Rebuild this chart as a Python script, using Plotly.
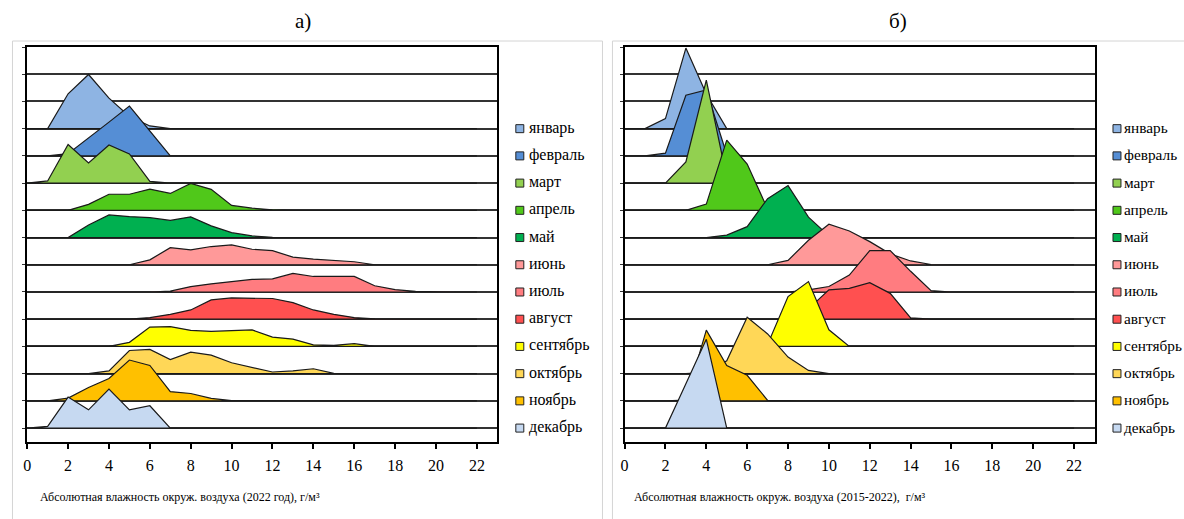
import plotly.graph_objects as go

# Month names and fill colours of the ridges (top row = January)
months = ["январь", "февраль", "март", "апрель", "май", "июнь",
          "июль", "август", "сентябрь", "октябрь", "ноябрь", "декабрь"]
colors = ["#8EB4E3", "#558ED5", "#92D050", "#50C81A", "#00B050", "#FF9999",
          "#FF7C80", "#FF5050", "#FFFF00", "#FFD757", "#FFC000", "#C6D9F1"]

# Absolute humidity bins, g/m³
bins = list(range(23))

# Relative frequency per bin (one grid row = 1.0), 2022
jan_2022 = [0, 0, 1.28, 1.99, 1.12, 0.45, 0.10, 0, 0, 0, 0, 0, 0, 0, 0, 0, 0, 0, 0, 0, 0, 0, 0]
feb_2022 = [0, 0, 0.08, 0.65, 1.24, 1.83, 0.90, 0, 0, 0, 0, 0, 0, 0, 0, 0, 0, 0, 0, 0, 0, 0, 0]
mar_2022 = [0, 0.08, 1.42, 0.74, 1.40, 1.07, 0.06, 0, 0, 0, 0, 0, 0, 0, 0, 0, 0, 0, 0, 0, 0, 0, 0]
apr_2022 = [0, 0, 0, 0.22, 0.59, 0.59, 0.78, 0.62, 0.99, 0.77, 0.18, 0.08, 0.02, 0, 0, 0, 0, 0, 0, 0, 0, 0, 0]
may_2022 = [0, 0, 0, 0.46, 0.83, 0.77, 0.73, 0.63, 0.76, 0.43, 0.18, 0.06, 0.01, 0, 0, 0, 0, 0, 0, 0, 0, 0, 0]
jun_2022 = [0, 0, 0, 0, 0, 0, 0.18, 0.63, 0.55, 0.67, 0.73, 0.57, 0.52, 0.28, 0.21, 0.15, 0.11, 0, 0, 0, 0, 0, 0]
jul_2022 = [0, 0, 0, 0, 0, 0, 0, 0.03, 0.20, 0.30, 0.38, 0.46, 0.48, 0.68, 0.57, 0.57, 0.57, 0.23, 0.09, 0.02, 0, 0, 0]
aug_2022 = [0, 0, 0, 0, 0, 0, 0.06, 0.18, 0.34, 0.71, 0.78, 0.76, 0.76, 0.61, 0.34, 0.18, 0.06, 0.01, 0, 0, 0, 0, 0]
sep_2022 = [0, 0, 0, 0, 0, 0.15, 0.71, 0.73, 0.59, 0.55, 0.59, 0.61, 0.34, 0.27, 0.06, 0.04, 0.10, 0, 0, 0, 0, 0, 0]
oct_2022 = [0, 0, 0, 0, 0.10, 0.85, 0.89, 0.52, 0.79, 0.68, 0.40, 0.24, 0.06, 0.10, 0.18, 0.01, 0, 0, 0, 0, 0, 0, 0]
nov_2022 = [0, 0, 0.10, 0.49, 0.82, 1.50, 1.30, 0.34, 0.27, 0.09, 0.01, 0, 0, 0, 0, 0, 0, 0, 0, 0, 0, 0, 0]
dec_2022 = [0, 0.06, 1.14, 0.67, 1.43, 0.67, 0.82, 0, 0, 0, 0, 0, 0, 0, 0, 0, 0, 0, 0, 0, 0, 0, 0]

# Relative frequency per bin (one grid row = 1.0), 2015-2022
jan_all = [0, 0, 0.37, 2.96, 1.27, 0, 0, 0, 0, 0, 0, 0, 0, 0, 0, 0, 0, 0, 0, 0, 0, 0, 0]
feb_all = [0, 0, 0.10, 2.23, 2.42, 0.05, 0, 0, 0, 0, 0, 0, 0, 0, 0, 0, 0, 0, 0, 0, 0, 0, 0]
mar_all = [0, 0, 0, 0.78, 3.78, 0.20, 0, 0, 0, 0, 0, 0, 0, 0, 0, 0, 0, 0, 0, 0, 0, 0, 0]
apr_all = [0, 0, 0, 0, 0.23, 2.58, 1.70, 0.05, 0, 0, 0, 0, 0, 0, 0, 0, 0, 0, 0, 0, 0, 0, 0]
may_all = [0, 0, 0, 0, 0, 0.09, 0.40, 1.43, 1.91, 0.75, 0.06, 0, 0, 0, 0, 0, 0, 0, 0, 0, 0, 0, 0]
jun_all = [0, 0, 0, 0, 0, 0, 0, 0, 0.16, 0.90, 1.49, 1.24, 0.85, 0.40, 0.14, 0.01, 0, 0, 0, 0, 0, 0, 0]
jul_all = [0, 0, 0, 0, 0, 0, 0, 0, 0, 0.08, 0.20, 0.62, 1.52, 1.52, 0.76, 0.05, 0, 0, 0, 0, 0, 0, 0]
aug_all = [0, 0, 0, 0, 0, 0, 0, 0, 0, 0.38, 1.08, 1.13, 1.34, 0.95, 0.05, 0, 0, 0, 0, 0, 0, 0, 0]
sep_all = [0, 0, 0, 0, 0, 0, 0, 0.07, 1.83, 2.38, 0.61, 0, 0, 0, 0, 0, 0, 0, 0, 0, 0, 0, 0]
oct_all = [0, 0, 0, 0, 0.05, 0.47, 2.07, 1.46, 0.61, 0.12, 0, 0, 0, 0, 0, 0, 0, 0, 0, 0, 0, 0, 0]
nov_all = [0, 0, 0, 0.03, 2.60, 1.30, 0.94, 0.02, 0, 0, 0, 0, 0, 0, 0, 0, 0, 0, 0, 0, 0, 0, 0]
dec_all = [0, 0, 0, 1.63, 3.26, 0, 0, 0, 0, 0, 0, 0, 0, 0, 0, 0, 0, 0, 0, 0, 0, 0, 0]

xticks = list(range(0, 23, 2))

SERIF = "Liberation Serif"
W, H = 1184, 519
n_rows = len(months)
baselines = [n_rows - 0.5 - i for i in range(n_rows)]  # January on top

X_RANGE = [0, 23]
Y_RANGE = [0, n_rows + 2.5]
ydom = [(H - 441.7) / H, (H - 47.0) / H]
xdoms = [[23.3 / W, 495.0 / W], [622.7 / W, 1094.2 / W]]

# (x axis, y axis, domain, legend text offset, legend font size, series)
panels = [
    ("x", "y", xdoms[0], 24.45, 16,
     [jan_2022, feb_2022, mar_2022, apr_2022, may_2022, jun_2022,
      jul_2022, aug_2022, sep_2022, oct_2022, nov_2022, dec_2022]),
    ("x2", "y2", xdoms[1], 24.35, 15.3,
     [jan_all, feb_all, mar_all, apr_all, may_all, jun_all,
      jul_all, aug_all, sep_all, oct_all, nov_all, dec_all]),
]


def to_paper(value, rng, dom):
    """Map an axis value onto paper coordinates (works outside the range too)."""
    return dom[0] + (value - rng[0]) / (rng[1] - rng[0]) * (dom[1] - dom[0])


fig = go.Figure()
legend_text = []
legend_boxes = []
SW = 8  # legend swatch size, px

for xa, ya, xdom, text_x, text_size, series in panels:
    # Ridges: drawn from January (back) to December (front)
    for name, color, base, vals in zip(months, colors, baselines, series):
        xs = bins + [bins[-1], bins[0]]
        ys = [base + v for v in vals] + [base, base]
        fig.add_trace(go.Scatter(
            x=xs, y=ys, mode="lines", fill="toself", fillcolor=color,
            line=dict(color="#1a1a1a", width=1.2), name=name,
            showlegend=False, hoverinfo="skip", xaxis=xa, yaxis=ya,
        ))
    # Legend to the right of the plot: swatch + month name per ridge baseline
    sx = to_paper(24.1, X_RANGE, xdom)
    tx = to_paper(text_x, X_RANGE, xdom)
    for name, color, base in zip(months, colors, baselines):
        py = to_paper(base, Y_RANGE, ydom)
        legend_boxes.append(dict(
            type="rect", xref="paper", yref="paper",
            x0=sx - SW / 2 / W, x1=sx + SW / 2 / W,
            y0=py - SW / 2 / H, y1=py + SW / 2 / H,
            fillcolor=color, line=dict(color="#222222", width=1),
        ))
        legend_text.append(dict(
            text=name, x=tx, y=py + 1.0 / H, xref="paper", yref="paper",
            showarrow=False, xanchor="left", yanchor="middle",
            font=dict(family=SERIF, size=text_size, color="black"),
        ))

xaxis_common = dict(
    range=X_RANGE, tickvals=xticks, ticks="outside", ticklen=5, tickwidth=1.5,
    tickcolor="black", showline=True, linewidth=2, linecolor="black", mirror=True,
    showgrid=False, zeroline=False, ticklabelstandoff=3,
    tickfont=dict(family=SERIF, size=16, color="black"),
)
yaxis_common = dict(
    range=Y_RANGE, tickvals=[k + 0.5 for k in range(n_rows + 3)],
    showticklabels=False, ticks="outside", ticklen=3, tickcolor="#333333",
    showgrid=True, gridcolor="#333333", gridwidth=1.6, zeroline=False,
    showline=True, linewidth=2, linecolor="black", mirror=True,
    domain=ydom,
)

titles = [
    dict(text="а)", x=300 / W, y=(H - 21) / H, xref="paper", yref="paper",
         xanchor="center", yanchor="middle", showarrow=False,
         font=dict(family=SERIF, size=21, color="black")),
    dict(text="б)", x=897 / W, y=(H - 21) / H, xref="paper", yref="paper",
         xanchor="center", yanchor="middle", showarrow=False,
         font=dict(family=SERIF, size=21, color="black")),
    dict(text="Абсолютная влажность окруж. воздуха (2022 год), г/м³",
         x=177 / W, y=(H - 497) / H, xref="paper", yref="paper",
         xanchor="center", yanchor="middle", showarrow=False,
         font=dict(family=SERIF, size=12, color="black")),
    dict(text="Абсолютная влажность окруж. воздуха (2015-2022),  г/м³",
         x=779 / W, y=(H - 497) / H, xref="paper", yref="paper",
         xanchor="center", yanchor="middle", showarrow=False,
         font=dict(family=SERIF, size=12, color="black")),
]

frames = [
    dict(type="rect", xref="paper", yref="paper", layer="below",
         x0=8.5 / W, x1=600.5 / W, y0=-0.05, y1=(H - 41) / H,
         line=dict(color="#d4d4d4", width=1)),
    dict(type="rect", xref="paper", yref="paper", layer="below",
         x0=610.5 / W, x1=1.05, y0=-0.05, y1=(H - 41) / H,
         line=dict(color="#d4d4d4", width=1)),
]

fig.update_layout(
    width=W, height=H, margin=dict(l=0, r=0, t=0, b=0),
    paper_bgcolor="white", plot_bgcolor="white",
    xaxis=dict(domain=xdoms[0], anchor="y", **xaxis_common),
    yaxis=dict(anchor="x", **yaxis_common),
    xaxis2=dict(domain=xdoms[1], anchor="y2", **xaxis_common),
    yaxis2=dict(anchor="x2", **yaxis_common),
    shapes=frames + legend_boxes,
    annotations=titles + legend_text,
)

fig.write_html("out.html")
